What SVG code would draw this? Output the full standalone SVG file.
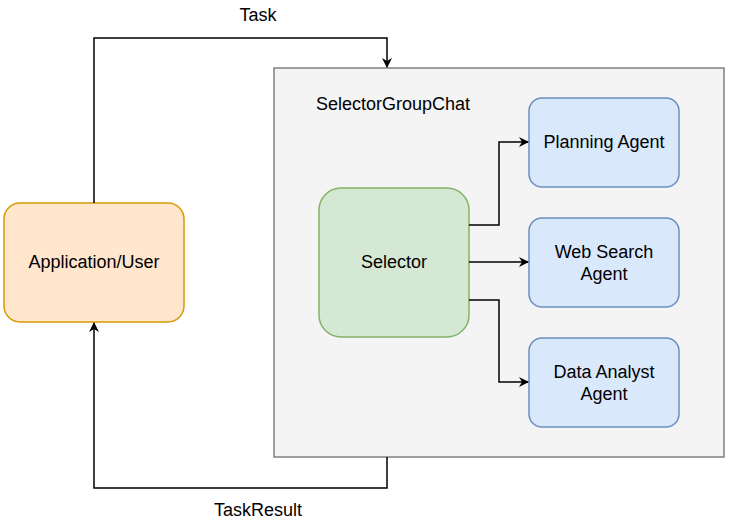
<svg xmlns="http://www.w3.org/2000/svg" width="741" height="530" viewBox="0 0 741 530">
<style>
text{font-family:"Liberation Sans",Arial,sans-serif;font-size:18px;fill:#000}
.c{text-anchor:middle}
.edge{fill:none;stroke:#000;stroke-width:1.5}
.agent{fill:#dae8fc;stroke:#6c8ebf;stroke-width:1.5}
</style>
<defs>
<marker id="arr" viewBox="0 0 10 10" refX="9" refY="5" markerWidth="10" markerHeight="10" markerUnits="userSpaceOnUse" orient="auto">
<path d="M0,0 L10,5 L0,10 L3,5 Z" fill="#000"/>
</marker>
</defs>
<rect width="741" height="530" fill="#fff"/>
<g id="container">
<rect x="274" y="68" width="450" height="389" fill="#f4f4f4" stroke="#808080" stroke-width="1.5"/>
<text x="316" y="110">SelectorGroupChat</text>
</g>
<g id="app">
<rect x="4" y="203" width="180" height="119" rx="16" fill="#ffe6cc" stroke="#d79b00" stroke-width="1.5"/>
<text class="c" x="94" y="268">Application/User</text>
</g>
<g id="selector">
<rect x="319" y="188" width="150" height="149" rx="22" fill="#d5e8d4" stroke="#82b366" stroke-width="1.5"/>
<text class="c" x="394" y="268">Selector</text>
</g>
<g id="planning">
<rect class="agent" x="529" y="98" width="150" height="89" rx="13"/>
<text class="c" x="604" y="148">Planning Agent</text>
</g>
<g id="websearch">
<rect class="agent" x="529" y="218" width="150" height="89" rx="13"/>
<text class="c" x="604" y="258">Web Search</text>
<text class="c" x="604" y="280">Agent</text>
</g>
<g id="dataanalyst">
<rect class="agent" x="529" y="338" width="150" height="89" rx="13"/>
<text class="c" x="604" y="378">Data Analyst</text>
<text class="c" x="604" y="400">Agent</text>
</g>
<g id="connectors">
<path class="edge" d="M94,203 V38 H387 V67" marker-end="url(#arr)"/>
<path class="edge" d="M387,457 V488 H94 V323" marker-end="url(#arr)"/>
<path class="edge" d="M469,225 H499 V142 H528" marker-end="url(#arr)"/>
<path class="edge" d="M469,262 H528" marker-end="url(#arr)"/>
<path class="edge" d="M469,300 H499 V382 H528" marker-end="url(#arr)"/>
<text class="c" x="258" y="21">Task</text>
<text class="c" x="258" y="516">TaskResult</text>
</g>
</svg>
